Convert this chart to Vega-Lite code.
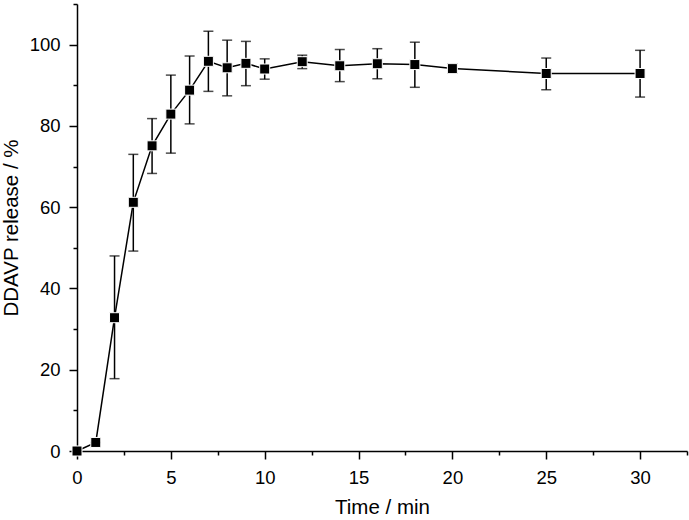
{
  "$schema": "https://vega.github.io/schema/vega-lite/v6.json",
  "width": 610,
  "height": 447,
  "autosize": "none",
  "padding": {"left": 77, "top": 4, "right": 2, "bottom": 69},
  "background": "white",
  "config": {
    "view": {"stroke": null},
    "font": "Liberation Sans",
    "axis": {
      "grid": false,
      "domainColor": "black",
      "domainWidth": 1.5,
      "tickColor": "black",
      "tickWidth": 1.5,
      "labelColor": "black",
      "labelFontSize": 18.5,
      "labelFlush": false,
      "titleColor": "black",
      "titleFontSize": 20.5,
      "titleFontWeight": "normal",
      "labelFont": "Liberation Sans",
      "titleFont": "Liberation Sans"
    }
  },
  "data": {
    "values": [
      {"t": 0, "r": 0, "lo": 0, "hi": 0},
      {"t": 1, "r": 2.1, "lo": 2.1, "hi": 2.1},
      {"t": 2, "r": 32.8, "lo": 17.8, "hi": 48.0},
      {"t": 3, "r": 61.2, "lo": 49.2, "hi": 73.0},
      {"t": 4, "r": 75.1, "lo": 68.3, "hi": 81.8},
      {"t": 5, "r": 82.9, "lo": 73.3, "hi": 92.5},
      {"t": 6, "r": 88.8, "lo": 80.5, "hi": 97.2},
      {"t": 7, "r": 95.9, "lo": 88.5, "hi": 103.3},
      {"t": 8, "r": 94.3, "lo": 87.4, "hi": 101.1},
      {"t": 9, "r": 95.4, "lo": 89.9, "hi": 100.8},
      {"t": 10, "r": 94.0, "lo": 91.5, "hi": 96.5},
      {"t": 12, "r": 95.8, "lo": 94.1, "hi": 97.4},
      {"t": 14, "r": 94.8, "lo": 90.9, "hi": 98.8},
      {"t": 16, "r": 95.3, "lo": 91.6, "hi": 99.0},
      {"t": 18, "r": 95.1, "lo": 89.5, "hi": 100.6},
      {"t": 20, "r": 94.1, "lo": 93.0, "hi": 95.3},
      {"t": 25, "r": 92.9, "lo": 88.9, "hi": 96.7},
      {"t": 30, "r": 92.9, "lo": 87.1, "hi": 98.6}
    ]
  },
  "resolve": {"axis": {"x": "independent", "y": "independent"}},
  "layer": [
    {
      "mark": {"type": "line", "color": "black", "strokeWidth": 1.5},
      "encoding": {
        "x": {"field": "t", "type": "quantitative", "scale": {"domain": [0, 32.5], "nice": false},
          "axis": {"orient": "bottom", "values": [0, 5, 10, 15, 20, 25, 30], "tickSize": 8, "labelPadding": 9, "title": "Time / min", "titlePadding": 11}},
        "y": {"field": "r", "type": "quantitative", "scale": {"domain": [0, 110], "nice": false},
          "axis": {"orient": "left", "values": [0, 20, 40, 60, 80, 100], "tickSize": 8, "labelPadding": 9, "title": "DDAVP release / %", "titlePadding": 8}}
      }
    },
    {
      "mark": {"type": "rule", "color": "black", "strokeWidth": 1.5},
      "encoding": {
        "x": {"field": "t", "type": "quantitative", "scale": {"domain": [0, 32.5], "nice": false},
          "axis": {"orient": "bottom", "values": [2.5, 7.5, 12.5, 17.5, 22.5, 27.5, 32.5], "tickSize": 4, "labels": false, "domain": false, "title": null}},
        "y": {"field": "lo", "type": "quantitative", "scale": {"domain": [0, 110], "nice": false},
          "axis": {"orient": "left", "values": [10, 30, 50, 70, 90, 110], "tickSize": 4, "labels": false, "domain": false, "title": null}},
        "y2": {"field": "hi"}
      }
    },
    {
      "mark": {"type": "tick", "orient": "horizontal", "color": "black", "size": 10, "thickness": 1.5},
      "encoding": {
        "x": {"field": "t", "type": "quantitative", "axis": null},
        "y": {"field": "lo", "type": "quantitative", "axis": null}
      }
    },
    {
      "mark": {"type": "tick", "orient": "horizontal", "color": "black", "size": 10, "thickness": 1.5},
      "encoding": {
        "x": {"field": "t", "type": "quantitative", "axis": null},
        "y": {"field": "hi", "type": "quantitative", "axis": null}
      }
    },
    {
      "mark": {"type": "point", "shape": "square", "filled": true, "size": 100, "fill": "black", "stroke": "white", "strokeWidth": 1, "opacity": 1},
      "encoding": {
        "x": {"field": "t", "type": "quantitative", "axis": null},
        "y": {"field": "r", "type": "quantitative", "axis": null}
      }
    }
  ]
}
